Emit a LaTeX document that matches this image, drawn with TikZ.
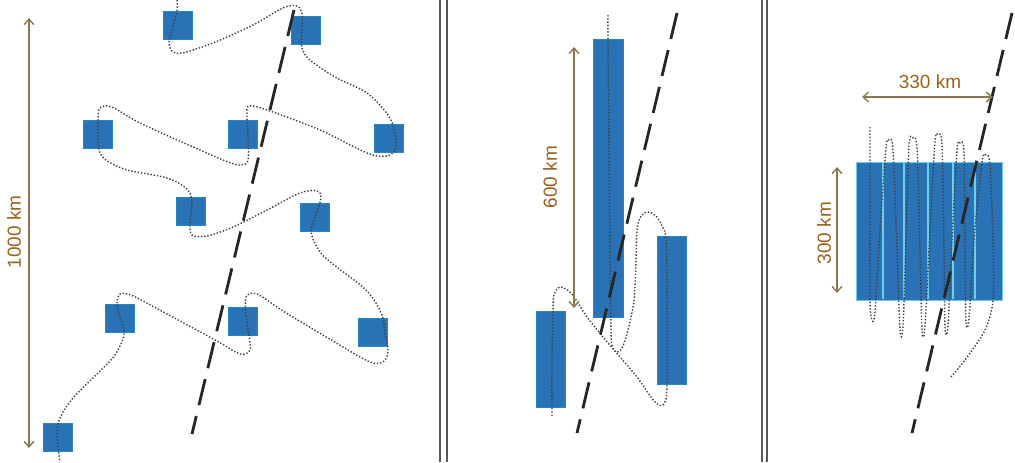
\documentclass[tikz,border=0pt]{standalone}
\usepackage{fontspec}
\setmainfont{Liberation Sans}
\usetikzlibrary{arrows.meta}
\definecolor{blockblue}{HTML}{2A72B6}
\definecolor{stripecyan}{HTML}{6CCFE8}
\definecolor{dimbrown}{HTML}{8F7650}
\definecolor{dimorange}{HTML}{9A6218}
\begin{document}
\begin{tikzpicture}[x=0.025cm,y=-0.025cm,
    block/.style={rectangle,fill=blockblue,draw=blockblue!85!cyan,line width=0.3pt,
      inner sep=0pt,minimum width=0.72cm,minimum height=0.71cm},
    track/.style={line width=1pt,dash pattern=on 1pt off 1.3pt,black!75},
    fault/.style={line width=2pt,dash pattern=on 19pt off 8pt,black!85},
    dimline/.style={<->,>={Straight Barb[length=4pt,width=7pt]},line width=1pt,dimbrown},
    dimlabel/.style={text=dimorange,font=\fontsize{13.5}{16}\selectfont,inner sep=0pt},
    divider/.style={line width=1.3pt,black!65}]
  \useasboundingbox (0,0) rectangle (1015,462);

  % panel dividers
  \draw[divider] (440,0) -- (440,462);
  \draw[divider] (447,0) -- (447,462);
  \draw[divider] (762,0) -- (762,462);
  \draw[divider] (767,0) -- (767,462);

  % left panel: scattered blocks
  \node[block] (s1) at (178,25) {};
  \node[block] (s2) at (306,30) {};
  \node[block] (s3) at (98,134) {};
  \node[block] (s4) at (243,134) {};
  \node[block] (s5) at (389,138) {};
  \node[block] (s6) at (191,211) {};
  \node[block] (s7) at (315,217) {};
  \node[block] (s8) at (120,318) {};
  \node[block] (s9) at (243,321) {};
  \node[block] (s10) at (373,332) {};
  \node[block] (s11) at (58,437) {};
  \draw[track] plot[smooth,tension=0.55] coordinates {(177,0) (177,11) (172,30) (169,42)
    (172,51) (182,53) (213,43) (253,25) (283,8) (297,6) (302,14) (302,30) (302,48)
    (310,60) (335,77) (367,93) (388,115) (394,130) (396,148) (387,156) (367,153)
    (320,130) (267,110) (249,106) (247,115) (248,135) (248,160) (241,165) (228,162)
    (200,150) (140,123) (112,107) (100,108) (98,120) (98,135) (99,150) (106,160)
    (127,170) (167,178) (188,190) (192,205) (190,222) (192,235) (207,236) (233,227)
    (267,210) (300,193) (317,191) (321,198) (316,215) (311,232) (320,252) (333,264)
    (367,291) (382,315) (385,333) (388,350) (384,361) (370,362) (333,341) (283,311)
    (257,294) (246,297) (246,315) (249,336) (250,350) (240,354) (217,341) (167,314)
    (133,296) (120,294) (117,305) (121,320) (124,335) (115,355) (100,371) (73,398)
    (60,418) (57,435) (60,462)};
  \coordinate (f1top) at (294,10);
  \coordinate (f1bot) at (192,434);
  \draw[fault] (f1top) -- (f1bot);
  \coordinate (d1top) at (29,18);
  \coordinate (d1bot) at (29,448);
  \draw[dimline] (d1top) -- (d1bot);
  \node[dimlabel,rotate=90] (d1lab) at (14,232) {1000 km};

  % middle panel: long segments
  \node[block,minimum width=0.75cm,minimum height=6.95cm] (wtall) at (608,178) {};
  \node[block,minimum height=3.7cm] (wright) at (671.5,310) {};
  \node[block,minimum height=2.4cm] (wleft) at (550.5,359) {};
  \draw[track] plot[smooth,tension=0.55] coordinates {(608,15) (608,40) (609,150)
    (610,250) (611,330) (612,345) (616,352) (622,348) (628,330) (634,300) (636,260)
    (637,230) (641,216) (648,212) (656,216) (662,226) (666,240) (667,300) (667,385)
    (664,404) (655,402) (637,377) (620,357) (603,337) (587,317) (578,303) (570,292)
    (560,287) (554,295) (553,311) (552,360) (552,417)};
  \coordinate (f2top) at (677,13);
  \coordinate (f2bot) at (577,433);
  \draw[fault] (f2top) -- (f2bot);
  \coordinate (d2top) at (574,47);
  \coordinate (d2bot) at (574,308);
  \draw[dimline] (d2top) -- (d2bot);
  \node[dimlabel,rotate=90] (d2lab) at (550,177) {600 km};

  % right panel: dense block
  \node[block,minimum width=3.65cm,minimum height=3.45cm,draw=stripecyan] (grid) at (929,231) {};
  \foreach \x in {883,904,928,953,975}
    \draw[stripecyan,line width=0.9pt] (\x,163) -- (\x,299);
  \draw[track] plot[smooth,tension=0.5] coordinates {(870,127) (870,200) (870,300)
    (872,320) (875,312) (880,230) (886,148) (889,140) (893,150) (897,250) (900,330)
    (903,326) (906,240) (909,146) (912,138) (917,148) (920,250) (922,330) (925,326)
    (930,230) (935,142) (938,135) (942,145) (944,250) (945,328) (948,325) (952,240)
    (957,150) (960,143) (964,152) (965,250) (966,322) (969,318) (974,240) (982,162)
    (986,155) (990,165) (993,240) (993,300) (985,330) (965,360) (950,378)};
  \coordinate (f3top) at (1012,13);
  \coordinate (f3bot) at (912,433);
  \draw[fault] (f3top) -- (f3bot);
  \coordinate (d3left) at (862,97);
  \coordinate (d3right) at (993,97);
  \draw[dimline] (d3left) -- (d3right);
  \node[dimlabel] (d3lab) at (930,82) {330 km};
  \coordinate (d4top) at (837,167);
  \coordinate (d4bot) at (837,293);
  \draw[dimline] (d4top) -- (d4bot);
  \node[dimlabel,rotate=90] (d4lab) at (824,233) {300 km};
\end{tikzpicture}
\end{document}
